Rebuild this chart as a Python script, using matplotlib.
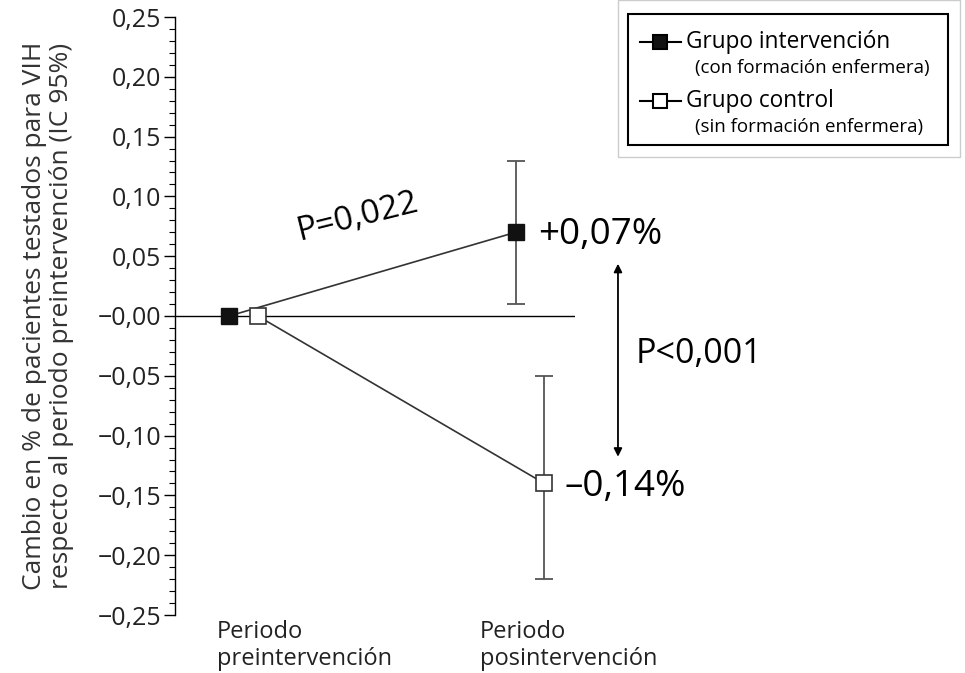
import matplotlib
matplotlib.use('Agg')
import matplotlib.pyplot as plt
from matplotlib.patches import Rectangle
from matplotlib.lines import Line2D

plt.rcParams['font.family'] = ['Open Sans', 'DejaVu Sans']

# data
periods = ['Periodo\npreintervención', 'Periodo\nposintervención']
interv = [0.0, 0.07]
interv_ci = [0.01, 0.13]      # IC 95% at post period
control = [0.0, -0.14]
control_ci = [-0.22, -0.05]
yticks = [0.25, 0.20, 0.15, 0.10, 0.05, 0.0, -0.05, -0.10, -0.15, -0.20, -0.25]
yticklabels = ['0,25', '0,20', '0,15', '0,10', '0,05', '\u22120,00', '\u22120,05',
               '\u22120,10', '\u22120,15', '\u22120,20', '\u22120,25']

W, H = 965, 673
fig = plt.figure(figsize=(W / 100, H / 100), dpi=100)
ax = fig.add_axes([175 / W, 1 - 615 / H, 400 / W, 598 / H])

x = [0, 1]
off = 0.05
xi = [v - off for v in x]
xc = [v + off for v in x]

ax.axhline(0, color='black', lw=1.0, zorder=1)
ax.plot(xi, interv, color='#333333', lw=1.2, zorder=2)
ax.plot(xc, control, color='#333333', lw=1.2, zorder=2)

# error bars only at the post period
ax.errorbar(xi[1], interv[1], yerr=[[interv[1] - interv_ci[0]], [interv_ci[1] - interv[1]]],
            fmt='none', ecolor='#555555', elinewidth=1.3, capsize=6.5, capthick=1.3, zorder=2)
ax.errorbar(xc[1], control[1], yerr=[[control[1] - control_ci[0]], [control_ci[1] - control[1]]],
            fmt='none', ecolor='#555555', elinewidth=1.3, capsize=6.5, capthick=1.3, zorder=2)

ax.plot(xi, interv, ls='none', marker='s', ms=12, mfc='#111111', mec='#111111', zorder=3)
ax.plot(xc, control, ls='none', marker='s', ms=12, mfc='white', mec='#333333', mew=1.2, zorder=3)

ax.set_xlim(-0.239, 1.157)
ax.set_ylim(-0.25, 0.25)
ax.set_yticks(yticks)
ax.set_yticklabels(yticklabels, fontsize=18, color='#222222')
ax.set_yticks([i / 100 for i in range(-25, 26)], minor=True)
ax.tick_params(axis='y', which='major', length=8, width=1, direction='out', pad=2)
ax.tick_params(axis='y', which='minor', length=4, width=0.8, direction='out')
ax.set_xticks([])
for s in ['top', 'right', 'bottom']:
    ax.spines[s].set_visible(False)
ax.spines['left'].set_linewidth(1)

# category labels under the axis
for xp, lab in zip([-0.0925, 0.825], periods):
    ax.text(xp, -0.254, lab, ha='left', va='top', fontsize=17, color='#222222',
            clip_on=False, linespacing=1.2)

fig.text(48 / W, 0.5 - (316 - H / 2) / H,
         'Cambio en % de pacientes testados para VIH\nrespecto al periodo preintervención (IC 95%)',
         rotation=90, ha='center', va='center', fontsize=19, color='#333333',
         multialignment='center', linespacing=1.1)

# annotations
ax.text(0.4, 0.083, 'P=0,022', rotation=14, ha='center', va='center', fontsize=24, clip_on=False)
ax.text(1.03, 0.068, '+0,07%', ha='left', va='center', fontsize=26.5, clip_on=False)
ax.text(1.12, -0.143, '\u20130,14%', ha='left', va='center', fontsize=26.5, clip_on=False)
ax.text(1.37, -0.032, 'P<0,001', ha='left', va='center', fontsize=24.5, clip_on=False)
ax.annotate('', xy=(1.307, 0.046), xytext=(1.307, -0.12),
            arrowprops=dict(arrowstyle='<|-|>', color='black', lw=1.3, mutation_scale=12),
            annotation_clip=False)

# legend box drawn by hand
def fx(px):
    return px / W

def fy(py):
    return 1 - py / H

fig.add_artist(Rectangle((fx(618), fy(157)), fx(960) - fx(618), fy(0) - fy(157),
                         transform=fig.transFigure, fill=False, ec='#cccccc', lw=1))
fig.add_artist(Rectangle((fx(628), fy(145)), fx(948) - fx(628), fy(14) - fy(145),
                         transform=fig.transFigure, fill=False, ec='black', lw=1.5))
for yy, fc, name, sub in [(42, '#111111', 'Grupo intervención', '(con formación enfermera)'),
                          (101, 'white', 'Grupo control', '(sin formación enfermera)')]:
    fig.add_artist(Line2D([fx(640), fx(681)], [fy(yy), fy(yy)], color='black', lw=1.5,
                          transform=fig.transFigure))
    fig.add_artist(Line2D([fx(660)], [fy(yy)], marker='s', ms=10, mfc=fc, mec='black', mew=1.5,
                          transform=fig.transFigure))
    fig.text(fx(686), fy(yy), name, ha='left', va='center', fontsize=16.3)
    fig.text(fx(695), fy(yy + 26), sub, ha='left', va='center', fontsize=13.5)

fig.savefig('out.png', dpi=100)
